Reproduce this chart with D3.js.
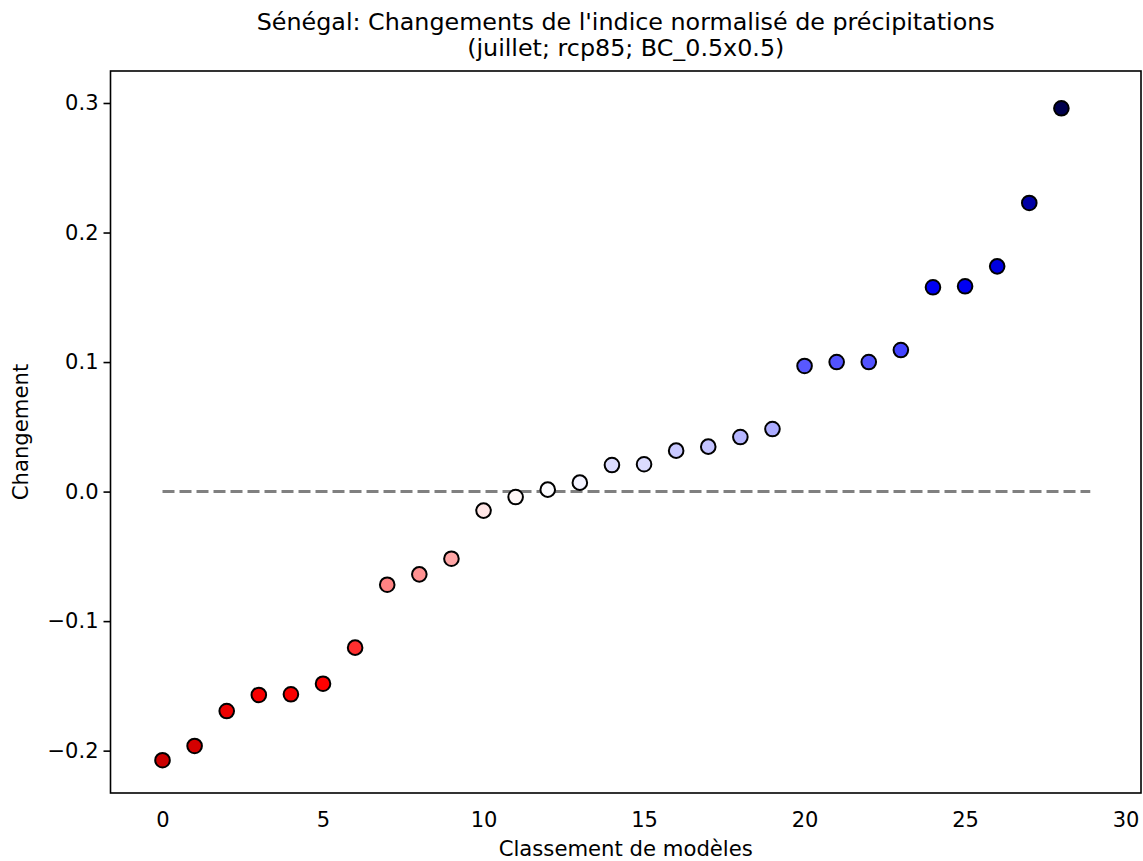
<!DOCTYPE html>
<html>
<head>
<meta charset="utf-8">
<script src="https://cdn.jsdelivr.net/npm/d3@7"></script>
<style>
  body { margin: 0; background: #fff; }
  svg { display: block; font-family: "DejaVu Sans", sans-serif; }
</style>
</head>
<body>
<svg id="chart" width="1143" height="861"></svg>
<script>
const titleLines = ["Sénégal: Changements de l'indice normalisé de précipitations", "(juillet; rcp85; BC_0.5x0.5)"];
const xLabel = "Classement de modèles";
const yLabel = "Changement";
const ranks = d3.range(29);
const values = [-0.2074, -0.1964, -0.1694, -0.1570, -0.1565, -0.1483, -0.1205, -0.0719, -0.0639, -0.0518,
  -0.0147, -0.0042, 0.0015, 0.0069, 0.0205, 0.0211, 0.0316, 0.0347, 0.0421, 0.0483,
  0.0970, 0.1000, 0.1000, 0.1093, 0.1577, 0.1585, 0.1739, 0.2228, 0.2959];
const xTicks = [0, 5, 10, 15, 20, 25, 30];
const yTicks = [-0.2, -0.1, 0.0, 0.1, 0.2, 0.3];
const zeroLine = [0, 28.9];

const svg = d3.select("#chart");
const pL = 110.5, pR = 1141, pT = 71, pB = 793;
const x = d3.scaleLinear().domain([-1.62, 30.48]).range([pL, pR]);
const y = d3.scaleLinear().domain([-0.2327, 0.3247]).range([pB, pT]);
const vmax = d3.max(values, v => Math.abs(v));
const color = d3.scaleLinear()
  .domain([-vmax, -vmax / 2, 0, vmax / 2, vmax])
  .range(["#800000", "#ff0000", "#ffffff", "#0000ff", "#00004d"]);

// zero line
svg.append("line")
  .attr("x1", x(zeroLine[0])).attr("x2", x(zeroLine[1]))
  .attr("y1", y(0)).attr("y2", y(0))
  .attr("stroke", "#808080").attr("stroke-width", 3)
  .attr("stroke-dasharray", "12,5");

// points
svg.append("g").selectAll("circle").data(values).join("circle")
  .attr("cx", (d, i) => x(ranks[i]))
  .attr("cy", d => y(d))
  .attr("r", 7.3)
  .attr("fill", d => color(d))
  .attr("stroke", "#000").attr("stroke-width", 2);

// frame
svg.append("rect").attr("x", pL).attr("y", pT)
  .attr("width", pR - pL).attr("height", pB - pT)
  .attr("fill", "none").attr("stroke", "#000").attr("stroke-width", 1.6);

const fmt = v => (v < 0 ? "\u2212" : "") + Math.abs(v).toFixed(1);

// y axis
const yAxis = svg.append("g").attr("transform", `translate(${pL},0)`)
  .call(d3.axisLeft(y).tickValues(yTicks).tickSize(7).tickPadding(5).tickFormat(fmt));
yAxis.select(".domain").remove();
yAxis.selectAll("line").attr("stroke-width", 1.6);
yAxis.selectAll("text").attr("font-size", 21).attr("font-family", "DejaVu Sans").attr("fill", "#000");

// x axis (no tick marks)
const xAxis = svg.append("g").attr("transform", `translate(0,${pB})`)
  .call(d3.axisBottom(x).tickValues(xTicks).tickSize(0).tickPadding(19).tickFormat(d3.format("d")));
xAxis.select(".domain").remove();
xAxis.selectAll("text").attr("font-size", 21).attr("font-family", "DejaVu Sans").attr("fill", "#000");

// labels
svg.append("text").attr("x", (pL + pR) / 2).attr("y", 856)
  .attr("text-anchor", "middle").attr("font-size", 21.2).text(xLabel);
svg.append("text").attr("transform", `translate(28,${(pT + pB) / 2}) rotate(-90)`)
  .attr("text-anchor", "middle").attr("font-size", 21.2).text(yLabel);

// title
svg.append("g").selectAll("text").data(titleLines).join("text")
  .attr("x", (pL + pR) / 2).attr("y", (d, i) => 30 + i * 26)
  .attr("text-anchor", "middle").attr("font-size", 23.8).text(d => d);
</script>
</body>
</html>
